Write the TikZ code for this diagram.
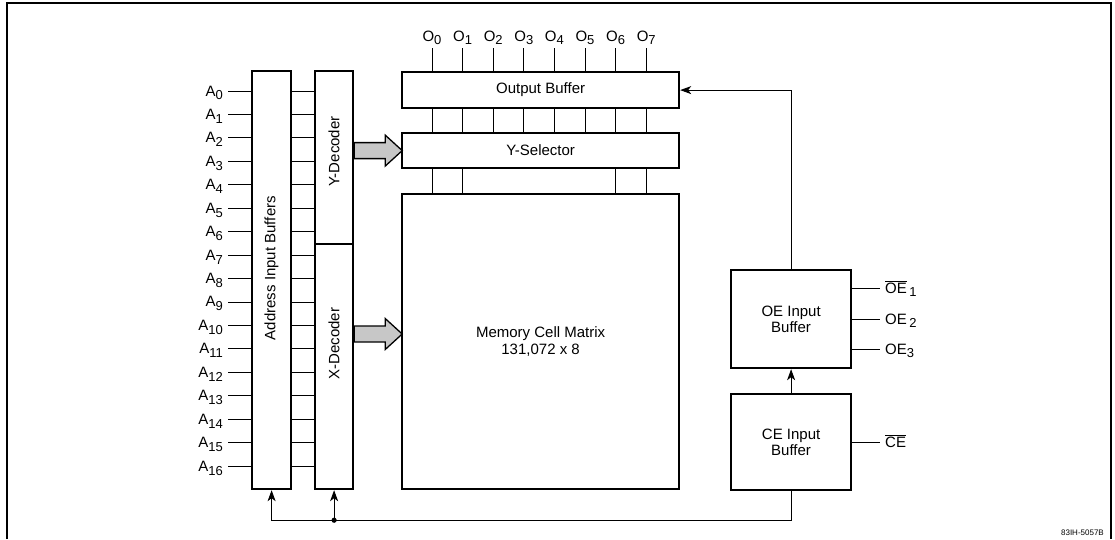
\documentclass[tikz,border=0pt]{standalone}
\usepackage{fontspec}
\setmainfont{Liberation Sans}
\usetikzlibrary{arrows.meta,calc,positioning}
\newcommand{\pinsub}[1]{\raisebox{-0.5ex}{\fontsize{13}{13}\selectfont #1}}
\newcommand{\barsig}[1]{$\overline{\mbox{#1}}$}

\begin{document}
\begin{tikzpicture}[x=1pt, y=-1pt,
  blk/.style={draw=black, line width=2.2pt, inner sep=0pt, anchor=north west, align=center},
  pinline/.style={line width=0.9pt},
  sigline/.style={-{Stealth[length=11pt, width=8pt, inset=3pt]}, line width=0.9pt},
  fatarrow/.style={draw=black, line width=1.3pt, fill=black!22, line join=miter},
  pinlabel/.style={inner sep=0pt},
  font=\fontsize{15}{16.5}\selectfont,
]
\useasboundingbox (0,0) rectangle (1115,539);
\draw[line width=1.5pt] (7,539) -- (7,3) -- (1111,3) -- (1111,539);

% address side
\node[blk, minimum width=39pt, minimum height=418pt] (aib) at (251,70) {};
\node[blk, minimum width=38pt, minimum height=173pt] (ydec) at (314,70) {};
\node[blk, minimum width=38pt, minimum height=245pt] (xdec) at (314,243) {};
\node[rotate=90] (aibtxt) at ($(aib.center)+(0,-12)$) {Address Input Buffers};
\node[rotate=90] (ydectxt) at ($(ydec.center)+(0,-6)$) {Y-Decoder};
\node[rotate=90] (xdectxt) at ($(xdec.center)+(0,-23)$) {X-Decoder};

\foreach \i in {0,...,16} {
  \coordinate (pa\i) at (228, {91+23.44*\i});
  \node[pinlabel, anchor=base east] (la\i) at ($(pa\i)+(-5,5)$) {A\pinsub{\i}};
  \draw[pinline] (pa\i) -- (pa\i -| aib.west);
  \draw[pinline] (pa\i -| aib.east) -- (pa\i -| ydec.west);
}

% memory array
\node[blk, minimum width=277pt, minimum height=36pt] (obuf) at (401,71) {Output Buffer};
\node[blk, minimum width=277pt, minimum height=35pt] (ysel) at (401,132) {Y-Selector};
\node[blk, minimum width=277pt, minimum height=295pt] (mem) at (401,193) {Memory Cell Matrix\\131,072 x 8};

\foreach \j in {0,...,7} {
  \coordinate (po\j) at ({432+30.6*\j}, 48);
  \node[pinlabel, anchor=base] (lo\j) at ($(po\j)+(0,-7)$) {O\pinsub{\j}};
  \draw[pinline] (po\j) -- (po\j |- obuf.north);
  \draw[pinline] (po\j |- obuf.south) -- (po\j |- ysel.north);
}
\foreach \j in {0,1,6,7}
  \draw[pinline] (po\j |- ysel.south) -- (po\j |- mem.north);

% wide arrows from the decoders
\coordinate (xmid) at (0,334);
\coordinate (ytail) at (ydec.east |- ysel.west);
\coordinate (xtail) at (xdec.east |- xmid);
\foreach \t in {ytail,xtail}
  \draw[fatarrow] (\t) ++(0,-8) -- ++(31,0) -- ++(0,-7.5) -- ++(17,15.5)
    -- ++(-17,15.5) -- ++(0,-7.5) -- ++(-31,0) -- cycle;

% control buffers
\node[blk, minimum width=120pt, minimum height=98pt] (oeb) at (730,269) {OE Input\\Buffer};
\node[blk, minimum width=120pt, minimum height=96pt] (ceb) at (730,393) {CE Input\\Buffer};

\foreach \yy/\lab [count=\k] in {288/{\barsig{OE}\,\pinsub{1}}, 319/{OE\,\pinsub{2}}, 349/{OE\pinsub{3}}} {
  \coordinate (poe\k) at (880,\yy);
  \draw[pinline] (oeb.east |- poe\k) -- (poe\k);
  \node[pinlabel, anchor=base west] (loe\k) at ($(poe\k)+(5,5)$) {\lab};
}
\coordinate (pce) at (880,442);
\draw[pinline] (ceb.east |- pce) -- (pce);
\node[pinlabel, anchor=base west] (lce) at ($(pce)+(5,5)$) {\barsig{CE}};

\draw[sigline] (ceb.north) -- (oeb.south);
\draw[sigline] (oeb.north) |- (obuf.east);

\coordinate (busr) at ($(ceb.south)+(0,29)$);
\draw[sigline] (ceb.south) -- (busr) -| (aib.south);
\draw[sigline] (xdec.south |- busr) -- (xdec.south);
\fill (xdec.south |- busr) circle (2.6pt);

\node[font=\fontsize{8}{9}\selectfont, anchor=east, inner sep=0pt] (figid) at (1104,533) {83IH-5057B};
\end{tikzpicture}
\end{document}
